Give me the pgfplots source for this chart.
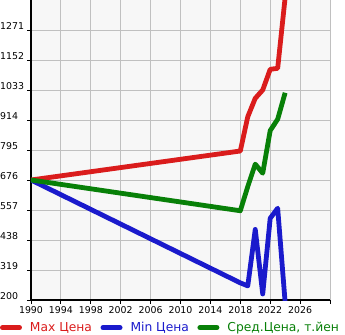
\documentclass[border=0pt]{standalone}
\usepackage{pgfplots}
\pgfplotsset{compat=1.18}
\usepackage{fontspec}
\setmainfont{DejaVu Sans}
\definecolor{cred}{RGB}{218,28,28}
\definecolor{cblue}{RGB}{26,26,204}
\definecolor{cgreen}{RGB}{8,128,8}
\definecolor{cgrid}{RGB}{192,192,192}
\definecolor{cbg}{RGB}{247,247,247}
\begin{document}
\begin{tikzpicture}
\useasboundingbox (-31bp,-35bp) rectangle (314bp,300bp);
\begin{axis}[
  scale only axis,
  width=299bp, height=300bp,
  xmin=1990, xmax=2030, ymin=200, ymax=1390,
  axis x line*=bottom, axis y line*=left,
  axis line style={line width=2.6bp, black, -},
  axis background/.style={fill=cbg},
  xtick={1990,1994,...,2030},
  xticklabels={1990,1994,1998,2002,2006,2010,2014,2018,2022,2026,{}},
  ytick={200,319,438,557,676,795,914,1033,1152,1271},
  yticklabels={200,319,438,557,676,795,914,1033,1152,1271},
  grid=major,
  major grid style={cgrid, line width=0.9bp},
  tick align=outside,
  major tick length=4bp,
  tick style={black, line width=0.8bp},
  /pgf/number format/assume math mode=true,
  ticklabel style={font=\fontsize{9.4bp}{10bp}\selectfont, inner sep=0pt},
  yticklabel style={anchor=west, xshift=-27bp, yshift=3.5bp},
  xticklabel style={anchor=north, yshift=-2.5bp},
  clip=true,
  legend columns=3,
  legend style={at={(-0.1037,-0.0923)}, anchor=west, draw=none, fill=none,
    font=\fontsize{12.3bp}{14bp}\selectfont, inner sep=0pt, outer sep=0pt,
    /tikz/every odd column/.append style={column sep=6bp},
    /tikz/every even column/.append style={column sep=6.5bp}},
  legend image code/.code={\draw[line width=5bp, line cap=round] (2.5bp,0bp) -- (19.5bp,0bp);},
]
\addplot[cred, line width=4.8bp, line join=round] coordinates {
 (1990,676) (2018,791) (2019,927) (2020,1000) (2021,1033) (2022,1115) (2023,1119) (2024,1400)
};
\addlegendentry{\textcolor{cred}{Max Цена}}
\addplot[cblue, line width=4.8bp, line join=round] coordinates {
 (1990,676) (2018,268) (2019,256) (2020,480) (2021,224) (2022,524) (2023,564) (2024,190)
};
\addlegendentry{\textcolor{cblue}{Min Цена}}
\addplot[cgreen, line width=4.8bp, line join=round] coordinates {
 (1990,676) (2018,554) (2019,650) (2020,739) (2021,703) (2022,872) (2023,917) (2024,1022)
};
\addlegendentry{\textcolor{cgreen}{Сред.Цена, т.йен}}
\end{axis}
\end{tikzpicture}
\end{document}
